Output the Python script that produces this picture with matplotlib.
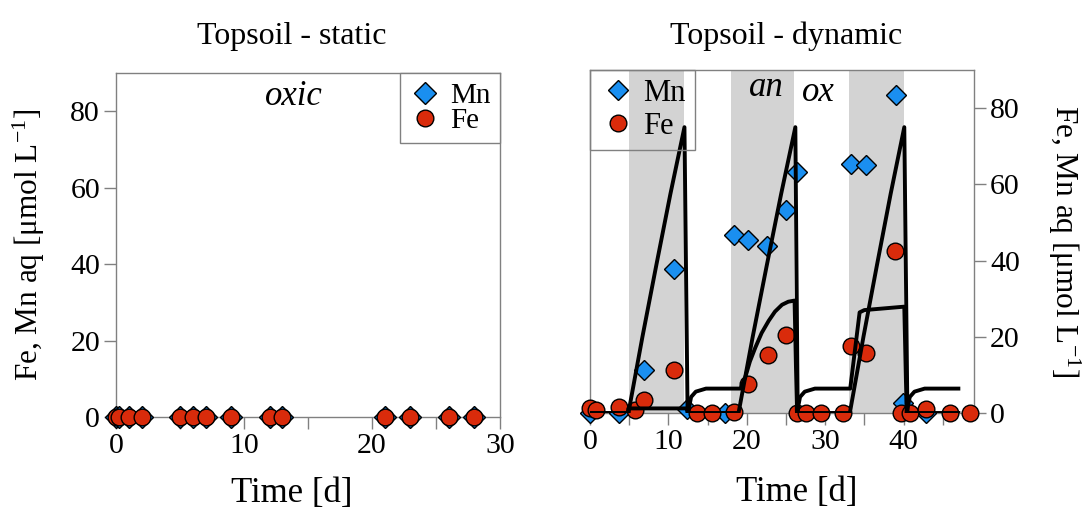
import matplotlib
matplotlib.use("Agg")
import matplotlib.pyplot as plt
from matplotlib.ticker import MultipleLocator

plt.rcParams['font.family'] = ['Liberation Serif', 'DejaVu Serif']
plt.rcParams['mathtext.fontset'] = 'custom'
plt.rcParams['mathtext.rm'] = 'Liberation Serif'
plt.rcParams['mathtext.it'] = 'Liberation Serif:italic'

# ---------------- data ----------------
static_t = [0, 0.2, 1, 2, 5, 6, 7, 9, 12, 13, 21, 23, 26, 28]
static_mn = [0, 0, 0, 0, 0, 0, 0, 0, 0, 0, 0, 0, 0, 0]
static_fe = [0, 0, 0, 0, 0, 0, 0, 0, 0, 0, 0, 0, 0, 0]

dyn_mn_t = [0, 3.7, 6.9, 10.7, 12.4, 17.2, 18.4, 20.1, 22.6, 25.0, 26.4, 33.3, 35.2, 39.0, 39.9, 42.9]
dyn_mn = [0, 0, 11.2, 37.7, 1.0, 0, 46.8, 45.4, 43.8, 53.3, 63.2, 65.4, 65.0, 83.4, 2.5, 0]
dyn_fe_t = [0, 0.8, 3.7, 5.7, 6.9, 10.7, 13.7, 15.6, 18.4, 20.1, 22.7, 25.0, 26.4, 27.5, 29.5,
            32.3, 33.3, 35.2, 38.9, 39.7, 40.8, 42.9, 45.9, 48.5]
dyn_fe = [1.4, 0.8, 1.7, 0.8, 3.3, 11.2, 0, 0, 0.3, 7.5, 15.2, 20.5, 0, 0, 0,
          0, 17.5, 15.7, 42.4, 0, 0, 1.0, 0, 0]

model_mn_t = [0, 4.9, 6.69, 8.48, 10.26, 12.05, 12.45, 18.95, 20.76, 22.58, 24.39, 26.2, 26.5,
              33.15, 34.89, 36.63, 38.36, 40.1, 40.5, 47.0]
model_mn = [0, 0, 20, 39, 57.5, 75, 0, 0, 20, 39, 57.5, 75, 0,
            0, 20, 39, 57.5, 75, 0, 0]
model_fe_t = [0, 4.9, 4.9, 12.3, 12.5, 12.9, 13.5, 14.8, 19.2, 19.8, 20.4, 21.1, 21.9, 22.8, 23.6,
              24.5, 25.3, 26.1, 26.4, 26.8, 27.4, 28.7, 33.2, 34.4, 35.0, 40.1, 40.4, 40.8,
              41.4, 42.7, 47.0]
model_fe = [0, 0, 1.2, 1.2, 0, 4.2, 5.6, 6.4, 6.4, 9.3, 13.5, 17.2, 21.0, 24.2, 26.6,
            28.4, 29.2, 29.5, 0, 4.2, 5.6, 6.4, 6.4, 26.4, 27.0, 27.9, 0, 4.2,
            5.6, 6.4, 6.4]

anoxic_periods = [(5, 12), (18, 26), (33, 40)]

BLUE = '#1a8ff0'
RED = '#d92b0b'
SPINE = '#808080'

fig = plt.figure(figsize=(10.91, 5.17), dpi=100)
axL = fig.add_axes([0.1063, 0.1934, 0.352, 0.6654])
axR = fig.add_axes([0.5408, 0.2012, 0.352, 0.6634])


def style(ax):
    for s in ax.spines.values():
        s.set_color(SPINE)
        s.set_linewidth(1.0)
    ax.tick_params(which='both', direction='out', length=8.5, width=1.0, color=SPINE,
                   labelsize=21.5, pad=3)
    ax.xaxis.set_major_locator(MultipleLocator(10))
    ax.xaxis.set_minor_locator(MultipleLocator(5))
    ax.yaxis.set_major_locator(MultipleLocator(20))


YLABEL = r'Fe, Mn aq [μmol L$^{\mathregular{-1}}$]'

# ---------------- left: static ----------------
style(axL)
axL.plot(static_t, static_mn, ls='none', marker='D', ms=11.5, mfc=BLUE, mec='black', mew=1.0,
         clip_on=False, zorder=3, label='Mn')
axL.plot(static_t, static_fe, ls='none', marker='o', ms=12, mfc=RED, mec='black', mew=1.0,
         clip_on=False, zorder=4, label='Fe')
axL.set_xlim(0, 30)
axL.set_ylim(0, 90)
axL.text(13.9, 83.8, 'oxic', style='italic', fontsize=25, ha='center', va='center')
axL.set_xlabel('Time [d]', fontsize=25)
axL.set_ylabel(YLABEL, fontsize=22.5)
axL.yaxis.set_label_coords(-0.18, 0.5)
axL.xaxis.set_label_coords(0.458, -0.175)
legL = axL.legend(loc='upper right', borderaxespad=0, fancybox=False, edgecolor=SPINE,
                  framealpha=1, fontsize=21, handletextpad=0.3, labelspacing=-0.05,
                  handlelength=1.1, borderpad=0.32)
legL.get_frame().set_linewidth(1.0)

# ---------------- right: dynamic ----------------
style(axR)
for a, b in anoxic_periods:
    axR.axvspan(a, b, color='#d3d3d3', lw=0, zorder=0)
axR.plot(model_mn_t, model_mn, color='black', lw=2.8, zorder=5)
axR.plot(model_fe_t, model_fe, color='black', lw=2.8, zorder=5)
axR.plot(dyn_mn_t, dyn_mn, ls='none', marker='D', ms=10.2, mfc=BLUE, mec='black', mew=1.0,
         clip_on=False, zorder=3, label='Mn')
axR.plot(dyn_fe_t, dyn_fe, ls='none', marker='o', ms=12, mfc=RED, mec='black', mew=1.0,
         clip_on=False, zorder=4, label='Fe')
axR.set_xlim(0, 49)
axR.set_ylim(0, 90)
axR.yaxis.tick_right()
axR.yaxis.set_label_position('right')
axR.text(22.5, 85.3, 'an', style='italic', fontsize=25, ha='center', va='center')
axR.text(29.1, 84.2, 'ox', style='italic', fontsize=25, ha='center', va='center')
axR.set_xlabel('Time [d]', fontsize=25)
axR.set_ylabel(YLABEL, fontsize=22.5, rotation=270, va='center', ha='center')
axR.yaxis.set_label_coords(1.235, 0.5)
axR.xaxis.set_label_coords(0.539, -0.185)
legR = axR.legend(loc='upper left', borderaxespad=0, fancybox=False, edgecolor=SPINE,
                  facecolor='none', framealpha=1, fontsize=22, handletextpad=0.2,
                  labelspacing=0.13, handlelength=1.26, borderpad=0.29)
legR.get_frame().set_linewidth(1.0)

fig.text(0.267, 0.93, 'Topsoil - static', fontsize=23, ha='center', va='center')
fig.text(0.7205, 0.93, 'Topsoil - dynamic', fontsize=23, ha='center', va='center')

fig.savefig('out.png', dpi=100)
